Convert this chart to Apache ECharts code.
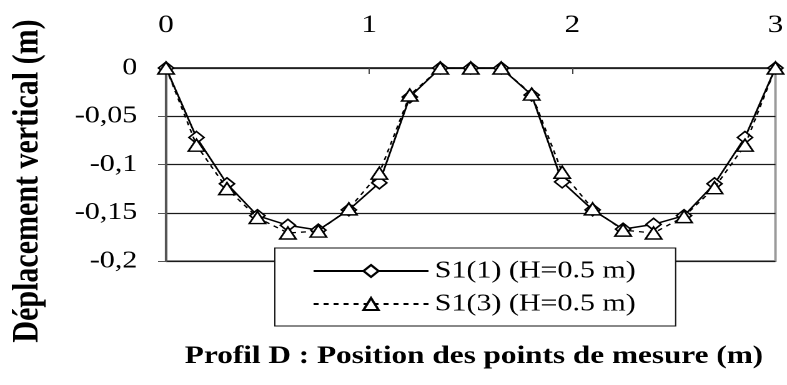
<!DOCTYPE html>
<html>
<head>
<meta charset="utf-8">
<script src="https://cdn.jsdelivr.net/npm/echarts@6/dist/echarts.min.js"></script>
<style>
  html, body { margin: 0; padding: 0; background: #fff; overflow: hidden; }
  /* The chart is laid out on a narrower canvas and stretched horizontally */
  #chart { width: 630px; height: 385px; transform-origin: 0 0; transform: scaleX(1.24921); }
</style>
</head>
<body>
<div id="chart"></div>
<script>
// Measurement positions along profile D (m)
const positions = [0, 0.15, 0.3, 0.45, 0.6, 0.75, 0.9, 1.05, 1.2, 1.35, 1.5,
                   1.65, 1.8, 1.95, 2.1, 2.25, 2.4, 2.55, 2.7, 2.85, 3.0];

// Vertical displacement (m), S1(1) and S1(3)
const s1_1 = [0, -0.072, -0.120, -0.153, -0.163, -0.168, -0.147, -0.119, -0.030, 0, 0,
              0, -0.028, -0.118, -0.147, -0.167, -0.162, -0.153, -0.120, -0.072, 0];
const s1_3 = [0, -0.080, -0.125, -0.155, -0.171, -0.169, -0.146, -0.109, -0.028, 0, 0,
              0, -0.027, -0.108, -0.146, -0.168, -0.171, -0.154, -0.124, -0.080, 0];

const seriesNames = ['S1(1) (H=0.5 m)', 'S1(3) (H=0.5 m)'];
const xTicks = [0, 1, 2, 3];
const yTicks = [-0.2, -0.15, -0.1, -0.05, 0];

const xTitle = 'Profil D : Position des points de mesure (m)';
const yTitle = 'Déplacement vertical (m)';

const FONT = "'Liberation Serif', 'Times New Roman', Times, serif";

const chart = echarts.init(document.getElementById('chart'), null, { renderer: 'canvas', devicePixelRatio: 2 });

const pairs = (ys) => positions.map((x, i) => [x, ys[i]]);

chart.setOption({
  animation: false,
  backgroundColor: '#fff',
  textStyle: { fontFamily: FONT, color: '#000' },
  grid: {
    left: 132.9, right: 6.4, top: 68, bottom: 124,
    show: true, borderColor: '#9a9a9a', borderWidth: 2, backgroundColor: 'transparent'
  },
  xAxis: {
    type: 'value', position: 'top',
    min: xTicks[0], max: xTicks[xTicks.length - 1], interval: 1,
    axisLine: { show: true, lineStyle: { color: '#222', width: 1.5 } },
    axisTick: { show: true, inside: true, length: 6, lineStyle: { color: '#444', width: 1 } },
    splitLine: { show: false },
    axisLabel: { fontSize: 25, fontFamily: FONT, color: '#000', margin: 30 }
  },
  yAxis: {
    type: 'value',
    min: yTicks[0], max: yTicks[yTicks.length - 1], interval: 0.05,
    axisLine: { show: true, onZero: false, lineStyle: { color: '#555', width: 2 } },
    axisTick: { show: true, length: 6.4, lineStyle: { color: '#555', width: 1 } },
    splitLine: { show: true, lineStyle: { color: '#1a1a1a', width: 1.2 } },
    axisLabel: {
      fontSize: 24, fontFamily: FONT, color: '#000', margin: 23,
      formatter: (v) => (Math.round(v * 100) / 100).toString().replace('.', ',')
    }
  },
  legend: {
    orient: 'vertical',
    left: 220, top: 248,
    padding: [11, 32, 10, 30],
    itemGap: 9,
    itemWidth: 92, itemHeight: 15,
    backgroundColor: '#fff',
    borderColor: '#111', borderWidth: 1,
    textStyle: { fontSize: 24, fontFamily: FONT, color: '#000', lineHeight: 24 },
    data: seriesNames
  },
  graphic: [
    {
      type: 'text', x: 379.4, y: 344,
      style: { text: xTitle, font: 'bold 25px ' + FONT, fill: '#000', textAlign: 'center' }
    },
    {
      type: 'text', rotation: Math.PI / 2, x: 7, y: 181,
      style: { text: yTitle, font: 'bold 30px ' + FONT, fill: '#000', textAlign: 'center' }
    }
  ],
  series: [
    {
      name: seriesNames[0], type: 'line', data: pairs(s1_1),
      symbol: 'diamond', symbolSize: [12, 12],
      itemStyle: { color: '#fff', borderColor: '#000', borderWidth: 1.5 },
      lineStyle: { color: '#000', width: 1.5, type: 'solid' },
      z: 3
    },
    {
      name: seriesNames[1], type: 'line', data: pairs(s1_3),
      symbol: 'triangle', symbolSize: [13, 12],
      itemStyle: { color: '#fff', borderColor: '#000', borderWidth: 1.5 },
      lineStyle: { color: '#000', width: 1.3, type: [4, 4] },
      z: 4
    }
  ]
});
</script>
</body>
</html>
